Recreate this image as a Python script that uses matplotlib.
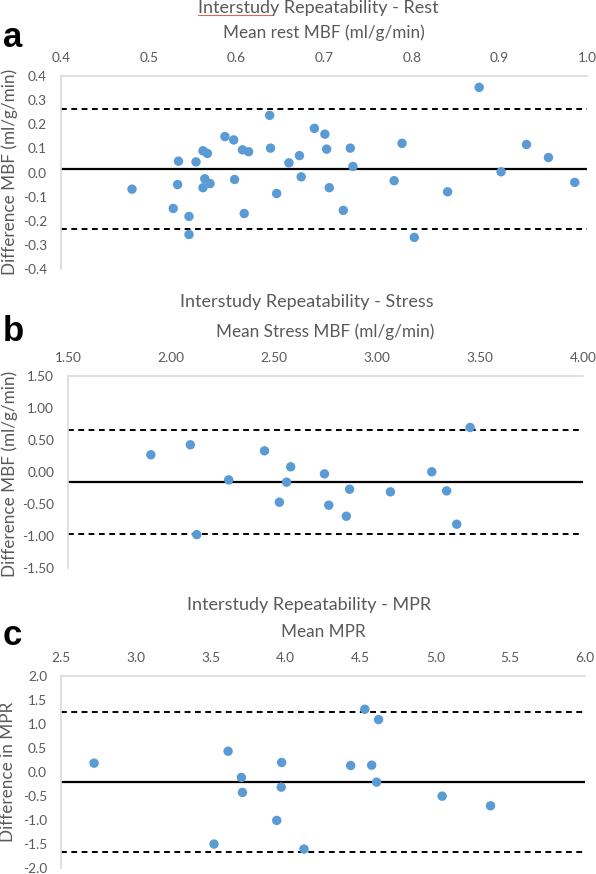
import matplotlib
matplotlib.use("Agg")
import matplotlib.pyplot as plt
from matplotlib.lines import Line2D

plt.rcParams['font.family'] = ['Lato', 'DejaVu Sans']

# ---------------- data ----------------
rest_mean = [0.481, 0.528, 0.533, 0.534, 0.546, 0.546, 0.554, 0.562, 0.567, 0.564,
             0.562, 0.570, 0.587, 0.597, 0.598, 0.607, 0.614, 0.609, 0.638, 0.639,
             0.646, 0.660, 0.672, 0.674, 0.689, 0.701, 0.703, 0.706, 0.722, 0.730,
             0.733, 0.780, 0.789, 0.803, 0.841, 0.877, 0.902, 0.931, 0.956, 0.986]
rest_diff = [-0.069, -0.149, -0.050, 0.047, -0.182, -0.257, 0.044, 0.090, 0.079, -0.026,
             -0.063, -0.046, 0.149, 0.135, -0.029, 0.094, 0.086, -0.170, 0.237, 0.101,
             -0.087, 0.040, 0.070, -0.018, 0.183, 0.159, 0.097, -0.063, -0.157, 0.101,
             0.025, -0.034, 0.121, -0.269, -0.080, 0.353, 0.003, 0.116, 0.062, -0.041]
rest_bias, rest_upper, rest_lower = 0.014, 0.265, -0.234

stress_mean = [1.902, 2.094, 2.125, 2.280, 2.454, 2.526, 2.561, 2.581, 2.745, 2.766,
               2.851, 2.867, 3.065, 3.266, 3.338, 3.387, 3.452]
stress_diff = [0.269, 0.425, -0.978, -0.123, 0.331, -0.472, -0.159, 0.081, -0.029, -0.519,
               -0.691, -0.269, -0.310, 0.003, -0.295, -0.816, 0.696]
stress_bias, stress_upper, stress_lower = -0.159, 0.655, -0.973

mpr_mean = [2.721, 3.522, 3.616, 3.705, 3.712, 3.941, 3.971, 3.974, 4.123, 4.435,
            4.529, 4.575, 4.621, 4.608, 5.046, 5.369]
mpr_diff = [0.184, -1.501, 0.433, -0.114, -0.426, -1.009, -0.315, 0.198, -1.605, 0.135,
            1.307, 0.142, 1.092, -0.211, -0.503, -0.704]
mpr_bias, mpr_upper, mpr_lower = -0.211, 1.244, -1.674

W, H = 596, 874
fig = plt.figure(figsize=(W / 100, H / 100), dpi=100)

GRAY = '#595959'
BLUE = '#5b9bd5'


def px_axes(left, right, top, bottom):
    return fig.add_axes([left / W, 1 - bottom / H, (right - left) / W, (bottom - top) / H])


def panel(ax, x, y, bias, up, lo, xlim, xticks, xfmt, ylim, yticks, yfmt,
          title, xlabel, ylabel, letter, tx, ty, xly, lety, ylx, yly):
    ax.set_xlim(*xlim)
    ax.set_ylim(*ylim)
    ax.axhline(bias, color='black', lw=1.6, zorder=2)
    ax.axhline(up, color='black', lw=1.4, ls=(0, (3.0, 2.3)), zorder=2)
    ax.axhline(lo, color='black', lw=1.4, ls=(0, (3.0, 2.3)), zorder=2)
    ax.scatter(x, y, s=46, color=BLUE, edgecolors='none', zorder=3, clip_on=False)
    ax.xaxis.tick_top()
    ax.set_xticks(xticks)
    ax.set_xticklabels([xfmt.format(v) for v in xticks])
    ax.set_yticks(yticks)
    ax.set_yticklabels([yfmt.format(v) for v in yticks])
    ax.tick_params(length=0, labelsize=9.8, colors=GRAY)
    ax.tick_params(axis='y', pad=10)
    ax.tick_params(axis='x', pad=9)
    for s in ['bottom', 'right']:
        ax.spines[s].set_visible(False)
    ax.spines['top'].set_color('#d9d9d9')
    ax.spines['top'].set_linewidth(1.2)
    ax.spines['left'].set_color('#d9d9d9')
    ax.spines['left'].set_linewidth(1.2)
    bb = ax.get_position()
    cx = (bb.x0 + bb.x1) / 2
    t = fig.text(tx / W, 1 - ty / H, title, ha='center', va='center', fontsize=13, color=GRAY)
    fig.text(cx, 1 - xly / H, xlabel, ha='center', va='center', fontsize=12.3, color=GRAY)
    fig.text(3 / W, 1 - lety / H, letter, ha='left', va='baseline', fontsize=25,
             fontweight='bold', color='black', family=['Liberation Sans', 'DejaVu Sans'])
    fig.text(ylx / W, 1 - yly / H, ylabel, ha='center', va='center', rotation=90,
             fontsize=12.3, color=GRAY)
    return t


ax1 = px_axes(61, 587, 76, 269)
panel(ax1, rest_mean, rest_diff, rest_bias, rest_upper, rest_lower,
      (0.4, 1.0), [0.4, 0.5, 0.6, 0.7, 0.8, 0.9, 1.0], '{:.1f}',
      (-0.4, 0.4), [-0.4, -0.3, -0.2, -0.1, 0.0, 0.1, 0.2, 0.3, 0.4], '{:.1f}',
      'Interstudy Repeatability - Rest', 'Mean rest MBF (ml/g/min)',
      'Difference MBF (ml/g/min)', 'a', 318, 8, 33, 47, 9.5, 172)
# spell-check underline under "Interstudy"
fig.add_artist(Line2D([198 / W, 272 / W], [1 - 15 / H, 1 - 15 / H], color='#e06666', lw=0.8))

ax2 = px_axes(68, 583, 376, 568)
panel(ax2, stress_mean, stress_diff, stress_bias, stress_upper, stress_lower,
      (1.5, 4.0), [1.5, 2.0, 2.5, 3.0, 3.5, 4.0], '{:.2f}',
      (-1.5, 1.5), [-1.5, -1.0, -0.5, 0.0, 0.5, 1.0, 1.5], '{:.2f}',
      'Interstudy Repeatability - Stress', 'Mean Stress MBF (ml/g/min)',
      'Difference MBF (ml/g/min)', 'b', 307, 302, 332, 341, 9.5, 474)

ax3 = px_axes(61, 585, 676, 868)
panel(ax3, mpr_mean, mpr_diff, mpr_bias, mpr_upper, mpr_lower,
      (2.5, 6.0), [2.5, 3.0, 3.5, 4.0, 4.5, 5.0, 5.5, 6.0], '{:.1f}',
      (-2.0, 2.0), [-2.0, -1.5, -1.0, -0.5, 0.0, 0.5, 1.0, 1.5, 2.0], '{:.1f}',
      'Interstudy Repeatability - MPR', 'Mean MPR',
      'Difference in MPR', 'c', 309, 605, 632, 645, 8, 772)

fig.savefig('out.png', dpi=100)
